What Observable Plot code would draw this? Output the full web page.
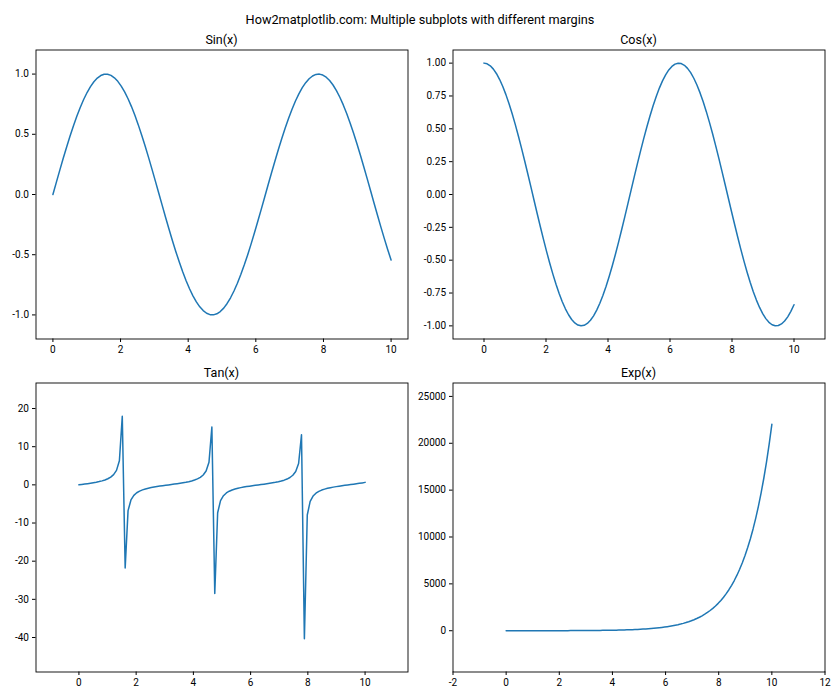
<!DOCTYPE html>
<html><head><meta charset="utf-8">
<script src="https://cdn.jsdelivr.net/npm/d3@7"></script>
<script src="https://cdn.jsdelivr.net/npm/@observablehq/plot@0.6"></script>
<style>
body{margin:0;background:#fff;}
#fig{position:relative;width:840px;height:700px;background:#fff;overflow:hidden;}
#fig svg{position:absolute;}
</style></head><body><div id="fig"></div>
<script>
// x samples (100 points from 0 to 10)
const xs = [0,0.101,0.202,0.303,0.404,0.505,0.606,0.707,0.808,0.909,
1.010,1.111,1.212,1.313,1.414,1.515,1.616,1.717,1.818,1.919,
2.020,2.121,2.222,2.323,2.424,2.525,2.626,2.727,2.828,2.929,
3.030,3.131,3.232,3.333,3.434,3.535,3.636,3.737,3.838,3.939,
4.040,4.141,4.242,4.343,4.444,4.545,4.646,4.747,4.848,4.949,
5.051,5.152,5.253,5.354,5.455,5.556,5.657,5.758,5.859,5.960,
6.061,6.162,6.263,6.364,6.465,6.566,6.667,6.768,6.869,6.970,
7.071,7.172,7.273,7.374,7.475,7.576,7.677,7.778,7.879,7.980,
8.081,8.182,8.283,8.384,8.485,8.586,8.687,8.788,8.889,8.990,
9.091,9.192,9.293,9.394,9.495,9.596,9.697,9.798,9.899,10.0];

const sinY = [0,0.1008,0.2006,0.2984,0.3931,0.4839,0.5696,0.6496,0.7230,0.7889,
0.8469,0.8962,0.9364,0.9670,0.9878,0.9985,0.9989,0.9892,0.9694,0.9398,
0.9005,0.8521,0.7952,0.7300,0.6574,0.5781,0.4928,0.4026,0.3082,0.2107,
0.1111,0.0103,-0.0906,-0.1906,-0.2886,-0.3837,-0.4748,-0.5612,-0.6418,-0.7158,
-0.7826,-0.8414,-0.8916,-0.9327,-0.9643,-0.9861,-0.9978,-0.9994,-0.9908,-0.9720,
-0.9434,-0.9051,-0.8576,-0.8014,-0.7370,-0.6651,-0.5864,-0.5017,-0.4120,-0.3180,
-0.2207,-0.1213,-0.0206,0.0804,0.1805,0.2787,0.3742,0.4658,0.5526,0.6338,
0.7086,0.7762,0.8358,0.8869,0.9290,0.9615,0.9843,0.9971,0.9997,0.9921,
0.9744,0.9467,0.9094,0.8629,0.8075,0.7439,0.6727,0.5947,0.5106,0.4213,
0.3277,0.2308,0.1315,0.0308,-0.0701,-0.1703,-0.2688,-0.3646,-0.4566,-0.5440];

const cosY = [1,0.9949,0.9797,0.9544,0.9195,0.8751,0.8219,0.7603,0.6909,0.6145,
0.5318,0.4437,0.3510,0.2548,0.1560,0.0556,-0.0458,-0.1463,-0.2453,-0.3418,
-0.4348,-0.5234,-0.6063,-0.6834,-0.7536,-0.8160,-0.8701,-0.9154,-0.9513,-0.9775,
-0.9938,-0.9999,-0.9959,-0.9817,-0.9575,-0.9235,-0.8801,-0.8277,-0.7669,-0.6983,
-0.6225,-0.5405,-0.4529,-0.3606,-0.2648,-0.1662,-0.0659,0.0351,0.1357,0.2349,
0.3317,0.4252,0.5143,0.5981,0.6759,0.7468,0.8100,0.8650,0.9112,0.9481,
0.9753,0.9926,0.9998,0.9968,0.9836,0.9604,0.9274,0.8849,0.8334,0.7735,
0.7056,0.6306,0.5491,0.4620,0.3702,0.2746,0.1763,0.0761,-0.0248,-0.1255,
-0.2249,-0.3220,-0.4158,-0.5054,-0.5898,-0.6683,-0.7399,-0.8039,-0.8598,-0.9069,
-0.9448,-0.9730,-0.9913,-0.9995,-0.9975,-0.9854,-0.9632,-0.9312,-0.8897,-0.8391];

const tanY = [0,0.1013,0.2048,0.3127,0.4275,0.5530,0.6931,0.8544,1.0464,1.2839,
1.5926,2.0198,2.6678,3.7951,6.332,17.95,-21.80,-6.762,-3.952,-2.7495,
-2.0711,-1.628,-1.3116,-1.0682,-0.8724,-0.7085,-0.5664,-0.4398,-0.3240,-0.2156,
-0.1118,-0.0103,0.0910,0.1941,0.3014,0.4155,0.5395,0.6780,0.8369,1.0251,
1.2571,1.5567,1.9686,2.5865,3.642,5.933,15.146,-28.49,-7.302,-4.138,
-2.844,-2.1287,-1.6675,-1.3399,-1.0904,-0.8906,-0.7240,-0.5800,-0.4521,-0.3354,
-0.2263,-0.1222,-0.0206,0.0807,0.1835,0.2902,0.4035,0.5264,0.6631,0.8195,
1.0043,1.2309,1.5221,1.9197,2.5094,3.5014,5.583,13.098,-40.30,-7.906,
-4.333,-2.940,-2.187,-1.7073,-1.3691,-1.1131,-0.9092,-0.7398,-0.5939,-0.4645,
-0.3469,-0.2372,-0.1326,-0.0309,0.0703,0.1729,0.2791,0.3916,0.5132,0.6484];

const expY = [1,1.106,1.224,1.354,1.498,1.657,1.833,2.028,2.244,2.482,
2.746,3.038,3.361,3.718,4.113,4.550,5.034,5.569,6.161,6.815,
7.540,8.341,9.228,10.21,11.29,12.49,13.82,15.29,16.92,18.71,
20.70,22.90,25.34,28.03,31.01,34.31,37.95,41.99,46.45,51.39,
56.85,62.89,69.58,76.97,85.15,94.20,104.2,115.3,127.5,141.1,
156.1,172.7,191.0,211.4,233.8,258.7,286.2,316.6,350.2,387.4,
428.6,474.2,524.6,580.3,642.0,710.3,785.8,869.3,961.7,1063.9,
1176.9,1302.0,1440.4,1593.5,1762.8,1950.2,2157.5,2387.0,2640.7,2921.3,
3231.8,3575.3,3955.3,4375.7,4840.8,5355.3,5924.5,6554.2,7250.8,8021.5,
8874.0,9817.3,10861,12015,13292,14705,16268,17997,19910,22026];

// titles and tick values
const suptitle = "How2matplotlib.com: Multiple subplots with different margins";
const titles = ["Sin(x)", "Cos(x)", "Tan(x)", "Exp(x)"];
const xTicksA = [0, 2, 4, 6, 8, 10];
const xTicksExp = [-2, 0, 2, 4, 6, 8, 10, 12];
const yTicksSin = [-1, -0.5, 0, 0.5, 1];
const yTicksCos = [-1, -0.75, -0.5, -0.25, 0, 0.25, 0.5, 0.75, 1];
const yTicksTan = [-40, -30, -20, -10, 0, 10, 20];
const yTicksExp = [0, 5000, 10000, 15000, 20000, 25000];

const FONT = "Roboto, 'Liberation Sans', sans-serif";
const BLUE = "#1f77b4";
const hy = f => d => d3.format(f)(d).replace("\u2212", "-");

const panels = [
  {ys: sinY, title: titles[0], left: 0, top: 0, width: 420, height: 365, mL: 35.5, mR: 12.5, mT: 49.5, mB: 26.5,
   xd: [-0.5, 10.5], xt: xTicksA, yd: [-1.2, 1.2], yt: yTicksSin, yf: hy(".1f")},
  {ys: cosY, title: titles[1], left: 420, top: 0, width: 420, height: 365, mL: 32.5, mR: 15.5, mT: 49.5, mB: 26.5,
   xd: [-1, 11], xt: xTicksA, yd: [-1.1, 1.1], yt: yTicksCos, yf: hy(".2f")},
  {ys: tanY, title: titles[2], left: 0, top: 365, width: 420, height: 335, mL: 35.5, mR: 12.5, mT: 17.5, mB: 28.5,
   xd: [-1.5, 11.5], xt: xTicksA, yd: [-49.04, 26.69], yt: yTicksTan, yf: hy("d")},
  {ys: expY, title: titles[3], left: 420, top: 365, width: 420, height: 335, mL: 32.5, mR: 15.5, mT: 17.5, mB: 28.5,
   xd: [-2, 12], xt: xTicksExp, yd: [-4404, 26431], yt: yTicksExp, yf: hy("d")}
];

const fig = document.getElementById("fig");
for (const p of panels) {
  const chart = Plot.plot({
    width: p.width, height: p.height,
    marginLeft: p.mL, marginRight: p.mR, marginTop: p.mT, marginBottom: p.mB,
    style: {fontFamily: FONT, fontSize: "10px", color: "#000", background: "transparent", overflow: "visible"},
    x: {domain: p.xd},
    y: {domain: p.yd},
    marks: [
      Plot.line(xs, {x: xs, y: p.ys, stroke: BLUE, strokeWidth: 1.5}),
      Plot.frame({stroke: "#000", strokeWidth: 0.9}),
      Plot.axisX({ticks: p.xt, tickFormat: hy("d"), tickSize: 3.5, tickPadding: 3.5, label: null, fontSize: 10}),
      Plot.axisY({ticks: p.yt, tickFormat: p.yf, tickSize: 3.5, tickPadding: 3.5, label: null, fontSize: 10})
    ]
  });
  chart.style.left = p.left + "px";
  chart.style.top = p.top + "px";
  fig.appendChild(chart);
}

// titles overlay
const ov = d3.select(fig).append("svg")
  .attr("width", 840).attr("height", 700)
  .style("left", "0px").style("top", "0px").style("pointer-events", "none")
  .attr("font-family", FONT);
ov.append("text").attr("x", 420).attr("y", 23.5).attr("text-anchor", "middle")
  .attr("font-size", 12.7).attr("fill", "#000").text(suptitle);
for (const p of panels) {
  const cx = p.left + p.mL + (p.width - p.mL - p.mR) / 2;
  const by = p.top + p.mT - 6;
  ov.append("text").attr("x", cx).attr("y", by).attr("text-anchor", "middle")
    .attr("font-size", 12.5).attr("fill", "#000").text(p.title);
}
</script></body></html>
